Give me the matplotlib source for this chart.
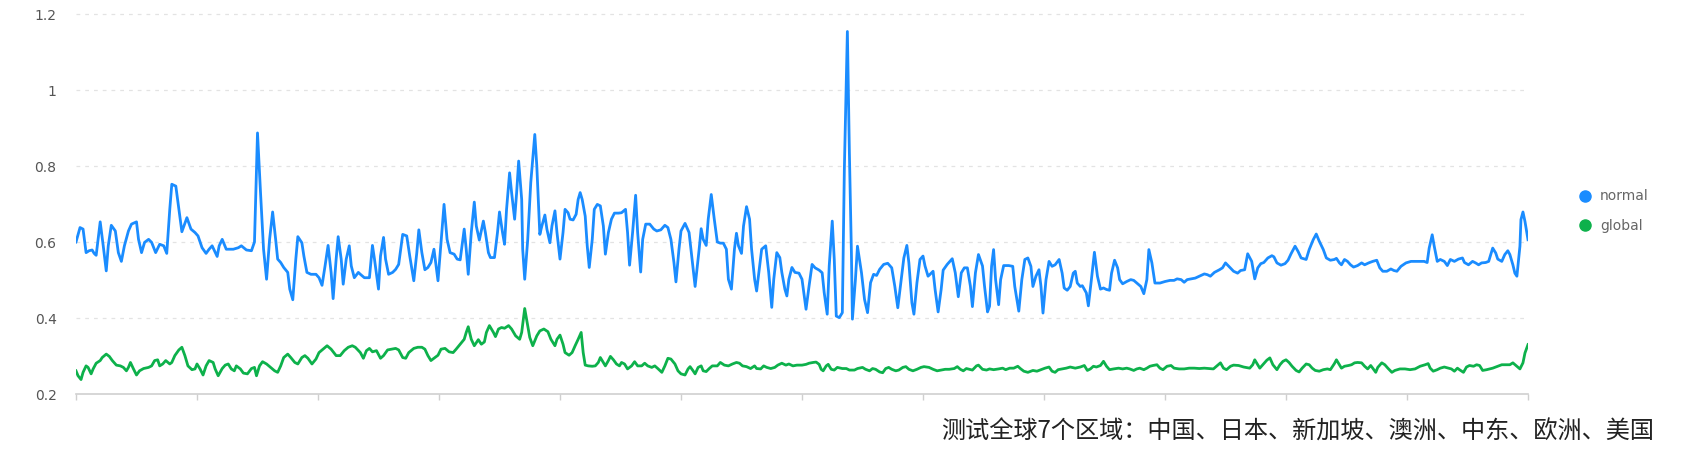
import matplotlib
matplotlib.use("Agg")
import matplotlib.pyplot as plt
from matplotlib.lines import Line2D

# time in minutes over one day
normal_pts = [
    (0, .600), (4, .638), (7, .634), (10, .572), (13, .577), (16, .579), (18, .570), (20, .565),
    (24, .653), (27, .590), (30, .524), (32, .590), (35, .644), (39, .629), (42, .572), (45, .549),
    (48, .590), (52, .629), (55, .647), (60, .653), (62, .607), (65, .572), (68, .599), (72, .607),
    (75, .599), (79, .572), (83, .594), (87, .590), (90, .570), (93, .686), (95, .752), (99, .747),
    (102, .686), (105, .627), (110, .664), (114, .634), (118, .625), (121, .616), (125, .585),
    (129, .570), (132, .581), (135, .590), (140, .562), (142, .590), (145, .607), (149, .581),
    (156, .581), (161, .585), (164, .590), (169, .579), (174, .577), (177, .600),
    (180, .887), (183, .730), (186, .581), (189, .502), (192, .607), (195, .679), (198, .607),
    (200, .555), (203, .546), (206, .533), (210, .520), (212, .476), (215, .448), (218, .555),
    (220, .614), (224, .598), (226, .563), (229, .520), (233, .515), (238, .515), (241, .506),
    (244, .486), (247, .537), (250, .591), (253, .520), (255, .451), (258, .555), (260, .614),
    (263, .555), (265, .489), (268, .555), (271, .590), (273, .537), (276, .506), (280, .520),
    (282, .515), (286, .506), (291, .506), (294, .591), (296, .555), (300, .476), (302, .563),
    (305, .612), (307, .555), (310, .515), (314, .520), (317, .528), (320, .541), (324, .620),
    (328, .616), (331, .563), (335, .498), (338, .572), (340, .632), (343, .572), (346, .527),
    (349, .533), (352, .546), (355, .581),
    (359, .498), (362, .598), (365, .699), (368, .607), (371, .572), (375, .568), (378, .555),
    (381, .553), (385, .634), (387, .581), (389, .515), (392, .625), (395, .705), (397, .642),
    (400, .605), (404, .655), (406, .625), (409, .572), (411, .559), (415, .559), (418, .625),
    (420, .679), (423, .625), (425, .594), (427, .686), (430, .782), (432, .730), (435, .660),
    (437, .730), (439, .813), (442, .712), (443, .581), (445, .502), (448, .607), (451, .756),
    (455, .883), (457, .800), (460, .620), (462, .642), (465, .671), (467, .634), (470, .598),
    (472, .642), (475, .682), (477, .625), (480, .555), (483, .625), (485, .686), (488, .677),
    (490, .660), (493, .658), (496, .673), (498, .712), (500, .730), (502, .712), (505, .668),
    (507, .590), (509, .533), (512, .607), (514, .686), (517, .699), (520, .695), (523, .642),
    (525, .568), (528, .625), (531, .660), (534, .676), (538, .676), (541, .677),
    (545, .686), (547, .625), (549, .539), (552, .625), (555, .723), (557, .625), (560, .521),
    (562, .607), (565, .647), (569, .647), (573, .634), (576, .629), (580, .632), (584, .644),
    (587, .638), (590, .607), (593, .546), (595, .495), (598, .581), (600, .629), (604, .649),
    (608, .625), (611, .555), (614, .483), (618, .581), (620, .635), (622, .607), (625, .591),
    (627, .660), (630, .725), (633, .660), (636, .600), (639, .597), (642, .597), (645, .581),
    (647, .502), (650, .476), (653, .581), (655, .623), (657, .590), (660, .570), (662, .642),
    (665, .693), (668, .660), (670, .581), (673, .502), (675, .471), (678, .537), (680, .581),
    (684, .590), (687, .520), (690, .428), (692, .502), (695, .572), (698, .559), (700, .520),
    (703, .476), (705, .458), (707, .502), (710, .533), (713, .520), (717, .518), (720, .502),
    (724, .423), (727, .484), (730, .541), (733, .532), (737, .526), (740, .519), (742, .467),
    (745, .410), (747, .537), (750, .655), (752, .554), (754, .405), (757, .401), (760, .414),
    (762, .791), (765, 1.154), (767, .834), (769, .572), (770, .397), (773, .502), (775, .589),
    (779, .519), (782, .449), (785, .414), (788, .493), (791, .515), (794, .512), (797, .528),
    (801, .541), (805, .544), (809, .532), (812, .484), (815, .427), (818, .493), (821, .558),
    (824, .591), (826, .545), (829, .440), (831, .410), (834, .493), (837, .554), (840, .563),
    (842, .537), (845, .510), (847, .515), (850, .523), (852, .475), (855, .416), (858, .475),
    (860, .526), (864, .541), (867, .550), (869, .556), (872, .519), (875, .456), (878, .519),
    (881, .532), (884, .532), (887, .484), (889, .430), (892, .519), (895, .567), (899, .537),
    (901, .484), (904, .416),
    (906, .431), (908, .536), (910, .580), (912, .501), (915, .435), (917, .501), (920, .538),
    (925, .538), (929, .536), (931, .483), (935, .418), (938, .501), (941, .554), (944, .558),
    (947, .536), (949, .483), (952, .510), (955, .527), (957, .483), (959, .413), (962, .501),
    (965, .549), (968, .536), (971, .540), (975, .554), (978, .518), (980, .479), (983, .473),
    (986, .483), (989, .518), (991, .523), (993, .492), (996, .483), (998, .485), (1002, .466),
    (1004, .432), (1007, .501), (1010, .573), (1013, .510), (1016, .476), (1019, .479),
    (1022, .475), (1025, .473), (1027, .518), (1030, .552), (1033, .532), (1035, .501),
    (1038, .490), (1042, .496), (1046, .501), (1049, .499), (1052, .492), (1056, .483),
    (1059, .464), (1062, .501), (1064, .580), (1067, .545), (1070, .492), (1075, .492),
    (1080, .496), (1085, .499),
    (1089, .499), (1092, .503), (1096, .501), (1099, .494), (1102, .501), (1106, .503),
    (1110, .505), (1114, .510), (1119, .516), (1122, .514), (1125, .510), (1129, .520),
    (1134, .527), (1137, .532), (1140, .545), (1144, .534), (1148, .523), (1152, .518),
    (1155, .525), (1159, .527), (1162, .569), (1166, .549), (1169, .503), (1172, .532),
    (1175, .543), (1178, .546), (1182, .558), (1186, .564), (1188, .561), (1191, .545),
    (1195, .539), (1199, .543), (1202, .552), (1205, .569), (1209, .589), (1212, .575),
    (1215, .558), (1220, .554), (1223, .580), (1227, .606), (1230, .621), (1233, .602),
    (1237, .580), (1240, .558), (1244, .552), (1248, .554), (1250, .557), (1253, .545),
    (1255, .540), (1258, .554), (1261, .549), (1264, .540), (1267, .534),
    (1271, .538), (1275, .545), (1278, .540), (1282, .545), (1286, .549), (1290, .552),
    (1293, .532), (1296, .523), (1300, .523), (1304, .529), (1307, .525), (1310, .523),
    (1314, .536), (1319, .545), (1324, .549), (1331, .549), (1337, .549), (1340, .546),
    (1342, .584), (1345, .619), (1347, .589), (1350, .549), (1353, .554), (1357, .549),
    (1360, .538), (1363, .554), (1367, .549), (1371, .555), (1375, .558), (1377, .546),
    (1381, .540), (1385, .549), (1388, .545), (1391, .540), (1394, .545), (1398, .546),
    (1401, .549), (1405, .584), (1408, .571), (1410, .555), (1414, .549), (1417, .567),
    (1420, .577), (1422, .567), (1425, .540), (1427, .518), (1429, .510), (1432, .589),
    (1433, .659), (1435, .679), (1437, .654), (1440, .606),
]

global_pts = [
    (0, .261), (2, .248), (5, .238), (7, .257), (10, .274), (12, .270), (15, .253), (17, .266),
    (20, .281), (24, .288), (26, .296), (30, .305), (33, .299), (36, .288), (40, .276), (44, .274),
    (47, .270), (50, .261), (52, .270), (54, .283), (57, .266), (60, .250), (63, .261), (67, .267),
    (72, .270), (75, .274), (78, .288), (81, .290), (83, .274), (86, .279), (89, .288), (93, .279),
    (95, .283), (98, .301), (102, .316), (105, .323), (108, .301), (111, .274), (115, .264),
    (118, .266), (120, .279), (123, .266), (126, .250), (129, .274), (132, .288), (136, .283),
    (138, .266), (141, .248), (145, .267), (148, .276), (151, .279), (154, .266), (157, .261),
    (159, .274), (163, .266), (166, .255), (170, .253), (174, .267),
    (177, .270), (179, .248), (182, .274), (185, .285), (189, .279), (193, .270), (197, .261),
    (200, .257), (203, .274), (206, .296), (210, .305), (213, .296), (217, .283), (220, .279),
    (224, .296), (227, .301), (230, .294), (234, .279), (238, .292), (241, .309), (245, .318),
    (249, .327), (253, .318), (258, .301), (262, .301), (266, .314), (270, .323), (274, .327),
    (277, .323), (282, .309), (285, .294), (288, .314), (291, .320), (294, .311), (298, .314),
    (302, .294), (305, .301), (309, .316), (313, .318), (317, .320), (320, .316), (324, .296),
    (327, .294), (330, .309), (335, .320), (339, .323), (343, .323), (346, .318), (349, .301),
    (352, .288), (356, .296),
    (359, .302), (362, .318), (366, .320), (370, .311), (374, .309), (377, .318), (381, .331),
    (385, .344), (387, .362), (389, .377), (392, .344), (395, .327), (399, .343), (402, .331),
    (405, .337), (407, .362), (410, .380), (414, .362), (416, .351), (419, .371), (422, .375),
    (425, .373), (429, .380), (432, .371), (436, .353), (440, .344), (442, .362), (445, .425),
    (448, .380), (450, .349), (453, .327), (457, .353), (460, .366), (464, .371), (468, .364),
    (471, .344), (475, .327), (477, .344), (480, .355), (483, .331), (485, .309), (489, .302),
    (492, .309), (495, .327), (498, .344), (501, .362), (503, .309), (505, .276), (508, .274),
    (512, .273), (515, .274), (518, .283), (520, .296), (523, .283), (525, .274), (528, .288),
    (530, .299), (533, .290), (536, .279), (539, .274),
    (541, .283), (544, .279), (547, .266), (551, .274), (554, .285), (557, .274), (561, .274),
    (564, .281), (567, .274), (571, .270), (574, .274), (577, .267), (581, .257), (584, .274),
    (587, .294), (590, .292), (594, .279), (597, .261), (600, .253), (604, .250), (607, .266),
    (609, .272), (612, .261), (614, .253), (617, .270), (620, .274), (622, .261), (625, .259),
    (628, .267), (631, .274), (636, .274), (639, .283), (643, .276), (647, .274), (651, .279),
    (655, .283), (658, .281), (661, .274), (665, .272), (669, .267), (673, .274), (675, .267),
    (679, .266), (682, .274), (685, .270), (689, .267), (693, .270), (696, .276), (700, .281),
    (704, .276), (707, .279), (711, .274), (715, .276), (720, .276),
    (724, .278), (727, .281), (731, .283), (734, .284), (737, .278), (739, .265), (741, .261),
    (744, .274), (746, .278), (749, .265), (752, .263), (755, .270), (760, .267), (764, .267),
    (767, .263), (772, .263), (775, .267), (780, .270), (783, .265), (787, .261), (790, .267),
    (793, .265), (797, .258), (800, .256), (803, .267), (806, .270), (809, .265), (813, .261),
    (816, .263), (820, .270), (823, .272), (826, .265), (830, .261), (834, .265), (838, .270),
    (841, .272), (846, .270), (850, .265), (854, .261), (858, .263), (862, .265), (866, .265),
    (871, .267), (874, .272), (877, .265), (880, .261), (883, .267), (886, .265), (889, .263),
    (893, .274), (895, .276), (899, .265), (903, .263),
    (906, .266), (910, .264), (915, .266), (919, .268), (922, .264), (926, .268), (930, .268),
    (934, .273), (937, .266), (940, .260), (944, .257), (949, .262), (953, .260), (957, .264),
    (961, .268), (965, .271), (968, .260), (971, .257), (974, .264), (978, .266), (982, .268),
    (986, .271), (991, .268), (996, .271), (1000, .275), (1003, .262), (1006, .266),
    (1009, .273), (1012, .271), (1016, .275), (1019, .286), (1022, .273), (1025, .264),
    (1029, .266), (1034, .268), (1038, .266), (1042, .268), (1045, .266), (1049, .262),
    (1052, .266), (1055, .268), (1059, .264), (1062, .268), (1065, .273), (1068, .275),
    (1072, .277), (1075, .268), (1078, .264), (1082, .273), (1086, .275),
    (1089, .268), (1094, .266), (1099, .266), (1104, .268), (1109, .268), (1114, .267),
    (1119, .268), (1124, .267), (1128, .266), (1131, .273), (1135, .282), (1138, .268),
    (1141, .264), (1145, .273), (1148, .276), (1153, .275), (1158, .271), (1164, .268),
    (1167, .277), (1169, .290), (1172, .277), (1174, .268), (1178, .280), (1181, .289),
    (1184, .295), (1187, .277), (1191, .264), (1194, .277), (1197, .286), (1200, .290),
    (1203, .283), (1206, .273), (1210, .262), (1213, .258), (1216, .268), (1220, .279),
    (1223, .277), (1226, .268), (1229, .262), (1233, .260), (1237, .264), (1241, .266),
    (1244, .264), (1248, .280), (1250, .290), (1253, .277), (1255, .268), (1258, .273),
    (1262, .275), (1265, .277), (1268, .282),
    (1271, .283), (1275, .282), (1278, .273), (1281, .266), (1284, .275), (1286, .268),
    (1289, .257), (1291, .270), (1295, .282), (1298, .277), (1301, .268), (1305, .257),
    (1308, .262), (1313, .266), (1318, .266), (1323, .264), (1328, .266), (1333, .273),
    (1338, .277), (1341, .280), (1343, .268), (1346, .260), (1350, .264), (1353, .268),
    (1357, .271), (1361, .268), (1364, .266), (1367, .260), (1370, .268), (1372, .264),
    (1376, .257), (1379, .271), (1382, .275), (1386, .273), (1389, .277), (1392, .275),
    (1395, .262), (1399, .264), (1402, .266), (1405, .268), (1410, .273), (1414, .277),
    (1419, .277), (1422, .277), (1425, .282), (1428, .275), (1432, .266), (1435, .282),
    (1437, .308), (1440, .330),
]

y_ticks = [0.2, 0.4, 0.6, 0.8, 1.0, 1.2]
y_labels = ["0.2", "0.4", "0.6", "0.8", "1", "1.2"]
x_ticks = list(range(0, 1441, 120))
series_names = ["normal", "global"]
note = "测试全球7个区域：中国、日本、新加坡、澳洲、中东、欧洲、美国"

BLUE = "#1a8cff"
GREEN = "#0db14b"

fig = plt.figure(figsize=(16.94, 4.55), dpi=100)
ax = fig.add_axes([76 / 1694, 61 / 455, 1452 / 1694, 380 / 455])

nt, nv = zip(*normal_pts)
gt, gv = zip(*global_pts)
ax.plot(nt, nv, color=BLUE, lw=2.0, solid_joinstyle="round", zorder=3)
ax.plot(gt, gv, color=GREEN, lw=2.0, solid_joinstyle="round", zorder=3)

ax.set_xlim(0, 1440)
ax.set_ylim(0.2, 1.2)
ax.set_yticks(y_ticks)
ax.set_yticklabels(y_labels)
ax.set_xticks(x_ticks)
ax.set_xticklabels([])

# dotted horizontal grid
for y in y_ticks[1:]:
    ax.axhline(y, color="#e3e3e3", lw=0.9, ls=(0, (3, 4)), zorder=1, clip_on=False)

for s in ["top", "right", "left"]:
    ax.spines[s].set_visible(False)
ax.spines["bottom"].set_color("#cfcfcf")
ax.spines["bottom"].set_linewidth(1.2)
ax.tick_params(axis="y", length=0, pad=14, labelsize=10, labelcolor="#555555")
ax.tick_params(axis="x", length=4, width=1, color="#cfcfcf")

handles = [
    Line2D([], [], ls="none", marker="o", ms=8, color=BLUE),
    Line2D([], [], ls="none", marker="o", ms=8, color=GREEN),
]
fig.legend(handles, series_names, loc="center left",
           bbox_to_anchor=(1578 / 1694, 1 - 211 / 455),
           frameon=False, fontsize=10, labelcolor="#666666",
           handlelength=1.0, handletextpad=0.6, labelspacing=1.1,
           borderpad=0, borderaxespad=0)

fig.text(1654 / 1694, 1 - 432 / 455, note, ha="right", va="center",
         fontsize=17.4, color="#222222",
         family=["Noto Sans CJK SC", "DejaVu Sans"])

fig.savefig("out.png", dpi=100)
